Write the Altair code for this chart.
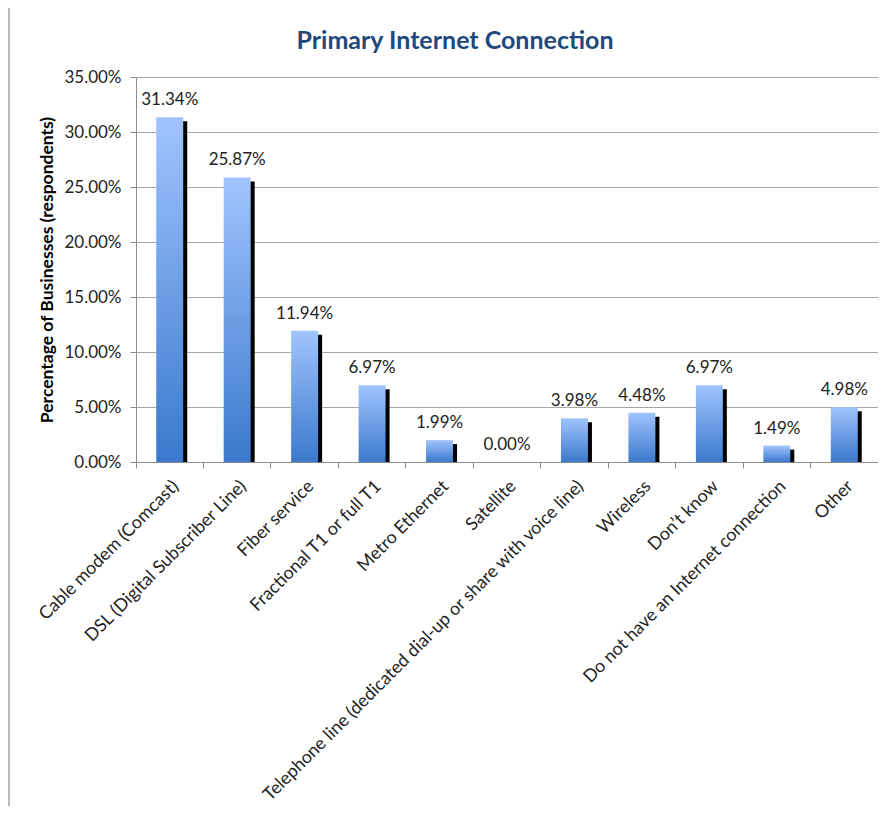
import altair as alt
import pandas as pd

categories = [
    "Cable modem (Comcast)",
    "DSL (Digital Subscriber Line)",
    "Fiber service",
    "Fractional T1 or full T1",
    "Metro Ethernet",
    "Satellite",
    "Telephone line (dedicated dial-up or share with voice line)",
    "Wireless",
    "Don\u2019t know",
    "Do not have an Internet connection",
    "Other",
]
values = [0.3134, 0.2587, 0.1194, 0.0697, 0.0199, 0.0, 0.0398, 0.0448, 0.0697, 0.0149, 0.0498]
y_ticks = [0.0, 0.05, 0.10, 0.15, 0.20, 0.25, 0.30, 0.35]

df = pd.DataFrame({"cat": categories, "val": values})

FONT = "Lato"
W, H = 742, 385

x_enc = alt.X(
    "cat:N",
    sort=categories,
    title=None,
    scale=alt.Scale(paddingInner=0, paddingOuter=0),
    axis=alt.Axis(
        labelAngle=-45,
        labelFont=FONT,
        labelFontSize=17.8,
        labelColor="#222222",
        labelPadding=9,
        labelLimit=700,
        domainColor="#8c8c8c",
        tickColor="#8c8c8c",
        tickSize=6,
        bandPosition=1,
        tickExtra=True,
    ),
)
y_enc = alt.Y(
    "val:Q",
    title="Percentage of Businesses (respondents)",
    scale=alt.Scale(domain=[0, 0.35], nice=False),
    axis=alt.Axis(
        values=y_ticks,
        format=".2%",
        labelFont=FONT,
        labelFontSize=17,
        labelColor="#222222",
        labelPadding=9,
        tickSize=6,
        tickColor="#8c8c8c",
        domainColor="#8c8c8c",
        gridColor="#a6a6a6",
        titleFont=FONT,
        titleFontSize=17.5,
        titleFontWeight="bold",
        titleColor="#000000",
        titlePadding=7,
    ),
)

base = alt.Chart(df)

border = base.mark_rect(fill=None, stroke="#8c8c8c", strokeWidth=1.2).encode(
    x=alt.value(-127), x2=alt.value(W + 50), y=alt.value(-70), y2=alt.value(H + 400)
).transform_filter(alt.datum.cat == categories[0])

shadow = base.mark_bar(
    color="#000000", width=alt.RelativeBandSize(0.4), xOffset=4, yOffset=4, clip=True
).encode(x=x_enc, y=y_enc)

grad = alt.Gradient(
    gradient="linear",
    stops=[
        alt.GradientStop(color="#a0c4fd", offset=0),
        alt.GradientStop(color="#3b79cc", offset=1),
    ],
    x1=0, x2=0, y1=0, y2=1,
)
bars = base.mark_bar(color=grad, width=alt.RelativeBandSize(0.4)).encode(x=x_enc, y=y_enc)

labels = base.mark_text(
    font=FONT, fontSize=17, color="#222222", baseline="bottom", dy=-8
).encode(x=x_enc, y=y_enc, text=alt.Text("val:Q", format=".2%"))

chart = (
    alt.layer(border, shadow, bars, labels)
    .properties(
        width=W,
        height=H,
        autosize=alt.AutoSizeParams(type="none"),
        padding={"left": 128, "top": 69, "right": 0, "bottom": 344},
        title=alt.TitleParams(
            "Primary Internet Connection",
            font=FONT,
            fontSize=25,
            fontWeight="bold",
            color="#1f497d",
            anchor="middle",
            frame="group",
            dx=-52,
            offset=0,
            dy=48,
        ),
    )
    .configure_view(stroke=None)
    .configure_axisX(grid=False)
)

chart.save("out.html", embed_options={"renderer": "svg", "actions": False})
